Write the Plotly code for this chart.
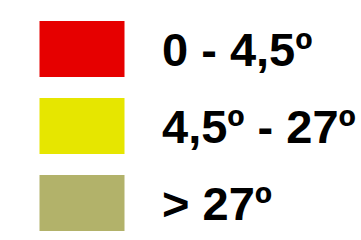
import plotly.graph_objects as go

labels = ["0 - 4,5º", "4,5º - 27º", "> 27º"]
positions = [0, 1, 2]
swatch_len = [1, 1, 1]
colors = ["#E60000", "#E6E600", "#B2B26A"]

fig = go.Figure()
fig.add_trace(go.Bar(
    x=swatch_len, y=positions, orientation="h",
    marker=dict(color=colors, line=dict(width=0)),
    width=56/77, hoverinfo="skip", showlegend=False,
))
for p, lab in zip(positions, labels):
    fig.add_annotation(x=(160-39.5)/85, y=p, text="<b>%s</b>" % lab,
                       xanchor="left", yanchor="middle", showarrow=False,
                       font=dict(family="Liberation Sans, Arial", size=47, color="#000000"))

x0 = -39.5/85
y0 = -49/77
fig.update_layout(
    width=361, height=240, margin=dict(l=0, r=0, t=0, b=0),
    paper_bgcolor="white", plot_bgcolor="white",
    xaxis=dict(range=[x0, x0 + 361/85], visible=False, fixedrange=True),
    yaxis=dict(range=[y0 + 240/77, y0], visible=False, fixedrange=True),
)
fig.write_html("out.html", config={"displayModeBar": False},
               post_script="document.body.style.margin='0';document.body.style.overflow='hidden';")
